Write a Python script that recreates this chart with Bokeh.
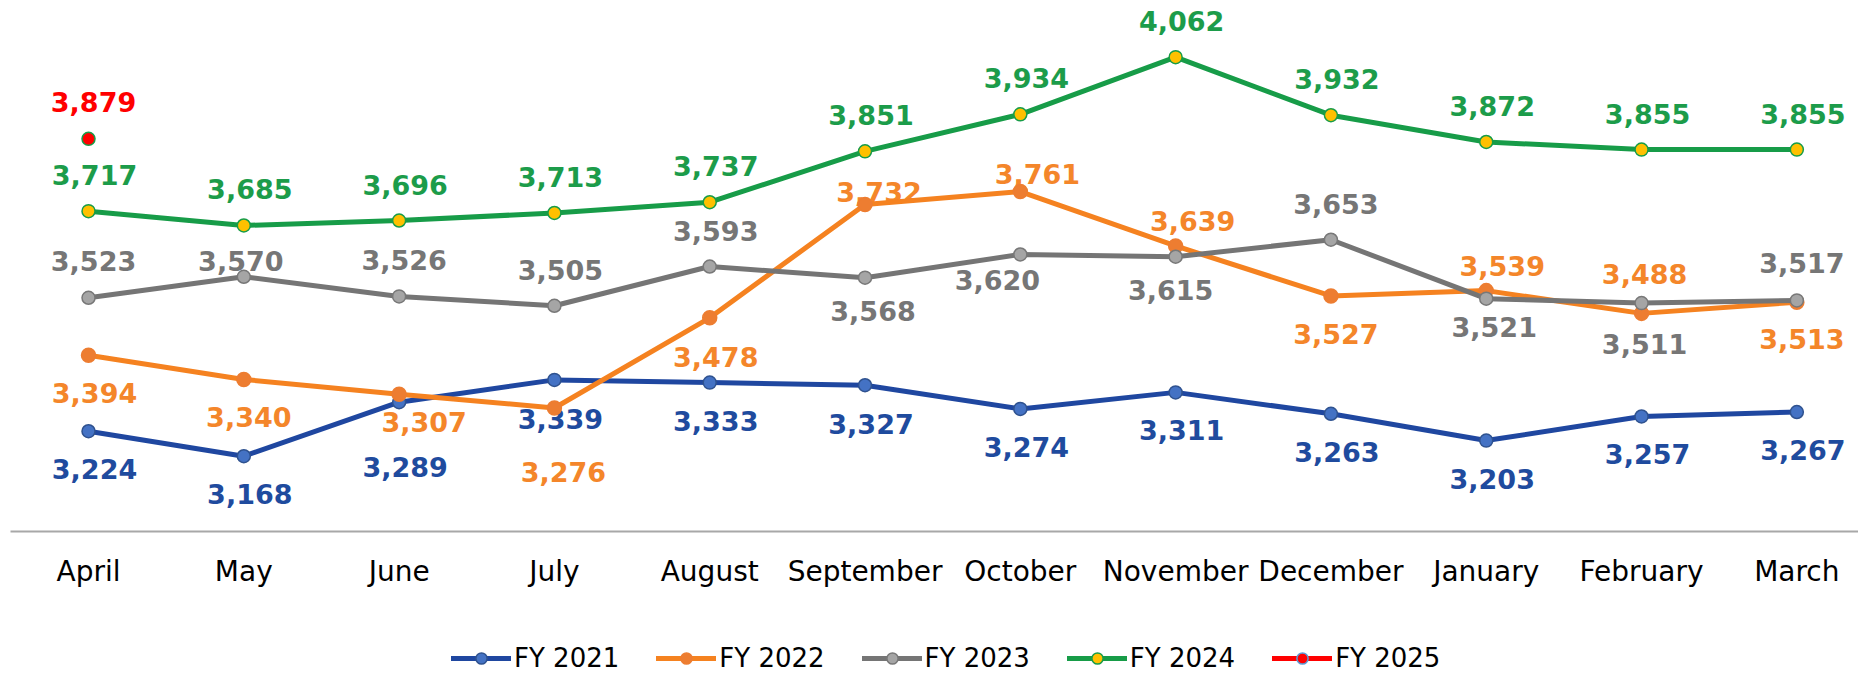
from bokeh.plotting import figure
from bokeh.layouts import column
from bokeh.models import Range1d, Legend, LegendItem, ColumnDataSource, FixedTicker
from bokeh.core.properties import value
from bokeh.embed import file_html
from bokeh.resources import INLINE

# ---------------- data ----------------
months = ["April", "May", "June", "July", "August", "September", "October",
          "November", "December", "January", "February", "March"]
fy2021 = [3224, 3168, 3289, 3339, 3333, 3327, 3274, 3311, 3263, 3203, 3257, 3267]
fy2022 = [3394, 3340, 3307, 3276, 3478, 3732, 3761, 3639, 3527, 3539, 3488, 3513]
fy2023 = [3523, 3570, 3526, 3505, 3593, 3568, 3620, 3615, 3653, 3521, 3511, 3517]
fy2024 = [3717, 3685, 3696, 3713, 3737, 3851, 3934, 4062, 3932, 3872, 3855, 3855]
fy2025 = [3879]
series_names = ["FY 2021", "FY 2022", "FY 2023", "FY 2024", "FY 2025"]

# ---------------- label placement (screen px, style only) ----------------
dx_2021 = [6] * 12
dy_2021 = [38, 38, 65, 39, 38, 39, 38, 38, 38, 38, 38, 38]
dx_2022 = [6, 5, 25, 9, 6, 14, 17, 17, 5, 16, 3, 5]
dy_2022 = [38, 38, 28, 64, 39, -12, -18, -25, 38, -25, -39, 37]
dx_2023 = [5, -3, 5, 6, 6, 8, -23, -5, 5, 8, 3, 5]
dy_2023 = [-37, -16, -36, -36, -36, 33, 26, 33, -36, 28, 41, -37]
dx_2024 = [6] * 12
dy_2024 = [-36] * 12
dx_2025 = [5]
dy_2025 = [-37]

# ---------------- styles ----------------
styles = {
    "FY 2021": dict(line="#1F47A0", fill="#4472C4", outline="#2F528F", text="#1F4B9E", size=13),
    "FY 2022": dict(line="#F58220", fill="#ED7D31", outline="#ED7D31", text="#F4862A", size=14),
    "FY 2023": dict(line="#757575", fill="#A5A5A5", outline="#787878", text="#767676", size=13),
    "FY 2024": dict(line="#179C48", fill="#FFC000", outline="#179C48", text="#1C9C4A", size=13),
    "FY 2025": dict(line="#FF0000", fill="#FF0000", outline="#179C48", text="#FF0000", size=13),
}
legend_outline = {"FY 2025": "#5B9BD5"}

all_series = [fy2021, fy2022, fy2023, fy2024, fy2025]
all_dx = [dx_2021, dx_2022, dx_2023, dx_2024, dx_2025]
all_dy = [dy_2021, dy_2022, dy_2023, dy_2024, dy_2025]

LABEL_FONT = "DejaVu Sans"

# ---------------- main chart ----------------
p = figure(width=1858, height=590, output_backend="svg", toolbar_location=None,
           x_range=Range1d(-0.5023, 11.397), y_range=Range1d(2999.3, 4189.0),
           y_axis_location=None, min_border_left=10, min_border_right=0,
           min_border_top=0, min_border_bottom=59)
p.outline_line_color = None
p.xgrid.visible = False
p.ygrid.visible = False
p.background_fill_color = "white"
p.border_fill_color = "white"

ax = p.xaxis[0]
ax.ticker = FixedTicker(ticks=list(range(len(months))))
ax.major_label_overrides = {i: m for i, m in enumerate(months)}
ax.major_tick_line_color = None
ax.minor_tick_line_color = None
ax.major_tick_out = 0
ax.major_tick_in = 0
ax.axis_line_color = "#A8A8A8"
ax.axis_line_width = 2
ax.major_label_standoff = 23
ax.major_label_text_font = LABEL_FONT
ax.major_label_text_font_size = "28px"
ax.major_label_text_color = "#000000"

# data labels (drawn first, beneath lines and markers)
for name, vals, dxs, dys in zip(series_names, all_series, all_dx, all_dy):
    st = styles[name]
    src = ColumnDataSource(dict(
        x=list(range(len(vals))), y=vals,
        t=[f"{v:,}" for v in vals],
        dx=dxs, dy=dys))
    p.text(x="x", y="y", text="t", x_offset="dx", y_offset="dy", source=src,
           text_font=value(LABEL_FONT), text_font_style="bold",
           text_font_size=value("27px"), text_align="center",
           text_baseline="middle", text_color=st["text"])

for name, vals in zip(series_names, all_series):
    st = styles[name]
    src = ColumnDataSource(dict(x=list(range(len(vals))), y=vals))
    p.line("x", "y", source=src, line_color=st["line"], line_width=5,
           line_join="round", line_cap="round")
    p.scatter("x", "y", source=src, marker="circle", size=st["size"],
              fill_color=st["fill"], line_color=st["outline"], line_width=1.5)

# ---------------- legend strip ----------------
q = figure(width=1858, height=83, output_backend="svg", toolbar_location=None,
           x_range=Range1d(0, 1), y_range=Range1d(0, 1),
           x_axis_location=None, y_axis_location=None,
           min_border_left=0, min_border_right=0, min_border_top=0, min_border_bottom=0)
q.outline_line_color = None
q.xgrid.visible = False
q.ygrid.visible = False
q.border_fill_color = "white"

legend_items = []
for name in series_names:
    st = styles[name]
    hidden = ColumnDataSource(dict(x=[-10, -9], y=[-10, -10]))
    lr = q.line("x", "y", source=hidden, line_color=st["line"], line_width=5,
                line_cap="round")
    sr = q.scatter("x", "y", source=hidden, marker="circle", size=12,
                   fill_color=st["fill"],
                   line_color=legend_outline.get(name, st["outline"]), line_width=1.5)
    legend_items.append(LegendItem(label=name, renderers=[lr, sr]))

legend = Legend(items=legend_items, orientation="horizontal", location=(441, 0),
                glyph_width=60, glyph_height=28, label_height=28, label_standoff=3,
                spacing=37, padding=0, margin=0, border_line_color=None,
                background_fill_alpha=0,
                label_text_font=LABEL_FONT, label_text_font_size="26px",
                label_text_color="#000000")
q.add_layout(legend)

layout = column(p, q, spacing=0)
open("out.html", "w").write(file_html(layout, INLINE))
